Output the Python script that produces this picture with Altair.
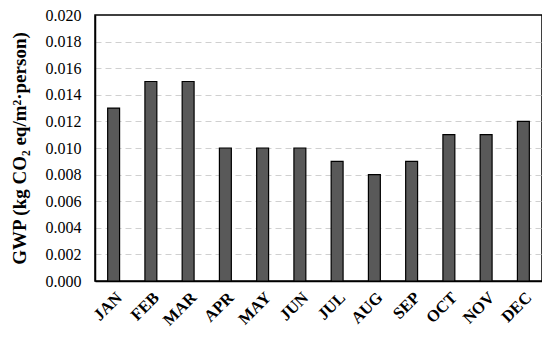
import altair as alt
import pandas as pd

months = ["JAN", "FEB", "MAR", "APR", "MAY", "JUN", "JUL", "AUG", "SEP", "OCT", "NOV", "DEC"]
gwp = [0.013, 0.015, 0.015, 0.010, 0.010, 0.010, 0.009, 0.008, 0.009, 0.011, 0.011, 0.012]
y_ticks = [0.000, 0.002, 0.004, 0.006, 0.008, 0.010, 0.012, 0.014, 0.016, 0.018, 0.020]

df = pd.DataFrame({"month": months, "gwp": gwp})

font = "Liberation Serif"
yscale = alt.Scale(domain=[0, 0.02], nice=False)

chart = alt.Chart(df).mark_bar(
    color="#595959", stroke="#000000", strokeWidth=1.2
).encode(
    x=alt.X("month:N", sort=months, title=None,
            scale=alt.Scale(paddingInner=0.68, paddingOuter=0.34),
            axis=alt.Axis(labelAngle=315, labelAlign="right", labelBaseline="top",
                          labelFont=font, labelFontSize=16.5, labelFontWeight="bold",
                          labelColor="#000000", ticks=False, domainColor="#000000",
                          labelPadding=8, domainWidth=1.5, labelOverlap=False)),
    y=alt.Y("gwp:Q", title="GWP (kg CO\u2082 eq/m\u00b2\u00b7person)",
            scale=yscale,
            axis=alt.Axis(values=y_ticks, format=".3f", labelFont=font, labelFontSize=16,
                          labelColor="#000000", ticks=False, domainColor="#000000",
                          grid=True, gridColor="#d0d0d0", gridDash=[6, 4], gridWidth=1,
                          gridOpacity=alt.condition("datum.value >= 0.0199 || datum.value <= 0.0001",
                                                    alt.value(0), alt.value(1)),
                          labelOverlap=False,
                          titleFont=font, titleFontSize=19, titleFontWeight="bold",
                          titleColor="#000000", labelPadding=14, titlePadding=16,
                          domainWidth=1.5)),
).properties(
    width=447, height=266,
    autosize=alt.AutoSizeParams(type="none"),
    padding={"left": 87, "top": 7, "right": 0, "bottom": 50},
).configure_view(
    stroke="#000000", strokeWidth=1.5
)

chart.save("out.html", embed_options={"renderer": "svg", "actions": False})
